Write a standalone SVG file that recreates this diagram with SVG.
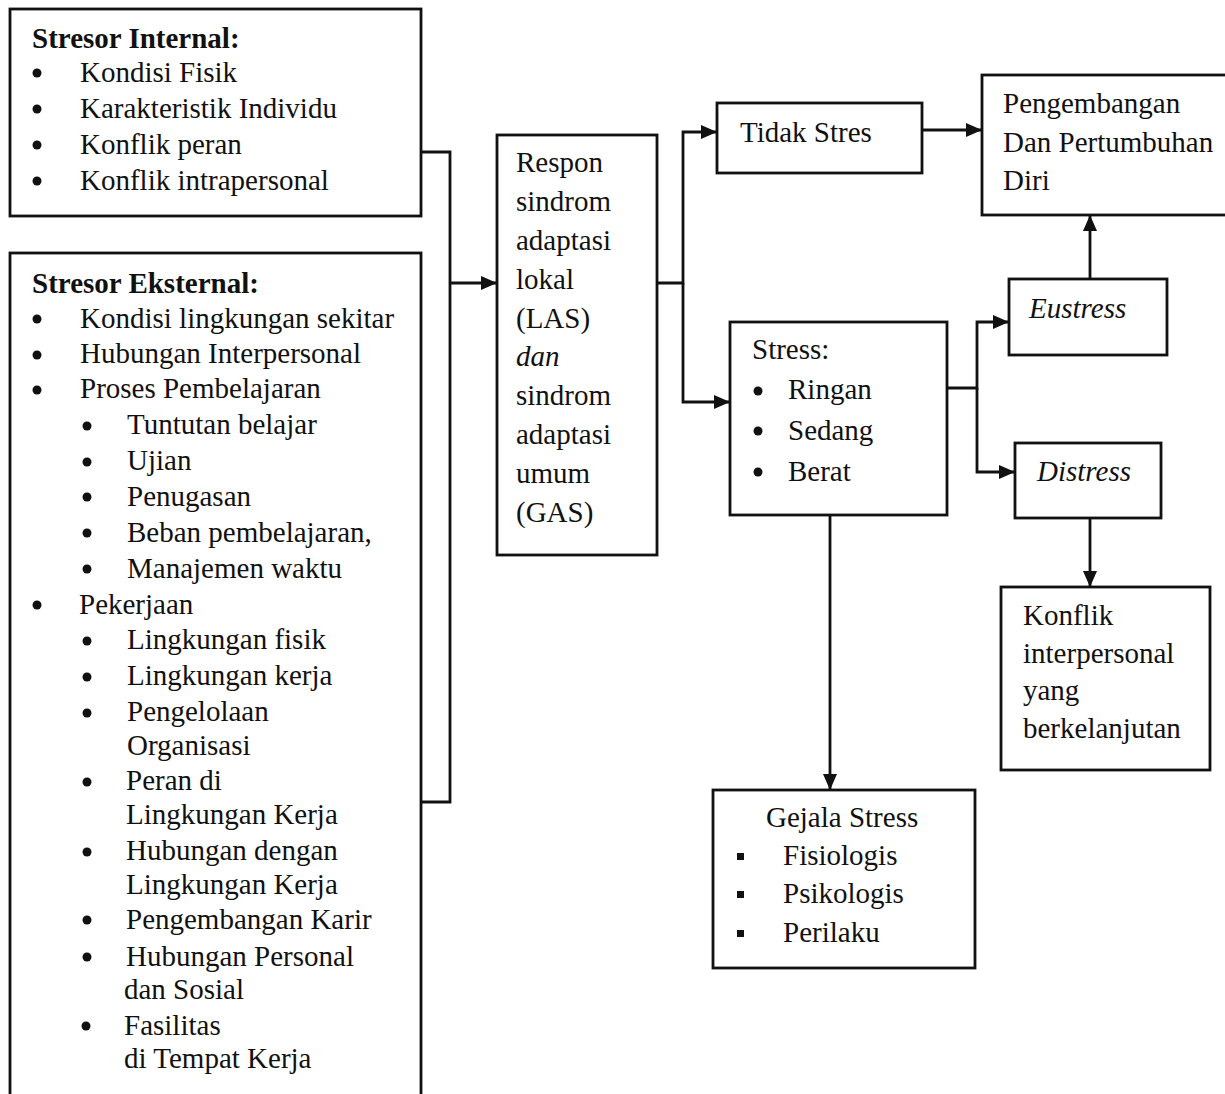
<svg xmlns="http://www.w3.org/2000/svg" width="1225" height="1094" viewBox="0 0 1225 1094">
<style>
  .box { fill: #fff; stroke: #111; stroke-width: 2.8; }
  .t { font-family: "Liberation Serif", "Times New Roman", serif; font-size: 29px; fill: #111; }
  .b { font-weight: bold; }
  .i { font-style: italic; }
  .con { fill: none; stroke: #111; stroke-width: 2.8; }
  .dot { fill: #111; }
</style>
<defs>
  <marker id="arr" markerUnits="userSpaceOnUse" markerWidth="18" markerHeight="16" refX="16" refY="7" orient="auto">
    <path d="M0,0 L16,7 L0,14 z" fill="#111"/>
  </marker>
</defs>
<rect width="1225" height="1094" fill="#fff"/>

<g id="connectors">
  <path class="con" d="M421,152 H450 V802 H421"/>
  <path class="con" d="M450,283 H497" marker-end="url(#arr)"/>
  <path class="con" d="M657,283 H683 V132 H717" marker-end="url(#arr)"/>
  <path class="con" d="M683,283 V402 H730" marker-end="url(#arr)"/>
  <path class="con" d="M922,130 H982" marker-end="url(#arr)"/>
  <path class="con" d="M1090,279 V215" marker-end="url(#arr)"/>
  <path class="con" d="M947,388 H977 V322 H1009" marker-end="url(#arr)"/>
  <path class="con" d="M977,388 V472 H1015" marker-end="url(#arr)"/>
  <path class="con" d="M1090,518 V587" marker-end="url(#arr)"/>
  <path class="con" d="M830,515 V790" marker-end="url(#arr)"/>
</g>

<g id="stresor-internal">
  <rect class="box" x="10" y="9" width="411" height="207"/>
  <text class="t b" x="32" y="48">Stresor Internal:</text>
  <circle class="dot" cx="37" cy="73" r="4.5"/><text class="t" x="80" y="82">Kondisi Fisik</text>
  <circle class="dot" cx="37" cy="109" r="4.5"/><text class="t" x="80" y="118">Karakteristik Individu</text>
  <circle class="dot" cx="37" cy="145" r="4.5"/><text class="t" x="80" y="154">Konflik peran</text>
  <circle class="dot" cx="37" cy="181" r="4.5"/><text class="t" x="80" y="190">Konflik intrapersonal</text>
</g>

<g id="stresor-eksternal">
  <rect class="box" x="10" y="253" width="411" height="860"/>
  <text class="t b" x="32" y="293">Stresor Eksternal:</text>
  <circle class="dot" cx="37" cy="319" r="4.5"/><text class="t" x="80" y="328">Kondisi lingkungan sekitar</text>
  <circle class="dot" cx="37" cy="355" r="4.5"/><text class="t" x="80" y="363">Hubungan Interpersonal</text>
  <circle class="dot" cx="37" cy="390" r="4.5"/><text class="t" x="80" y="398">Proses Pembelajaran</text>
  <circle class="dot" cx="87" cy="426" r="4.5"/><text class="t" x="127" y="434">Tuntutan belajar</text>
  <circle class="dot" cx="87" cy="462" r="4.5"/><text class="t" x="127" y="470">Ujian</text>
  <circle class="dot" cx="87" cy="497" r="4.5"/><text class="t" x="127" y="506">Penugasan</text>
  <circle class="dot" cx="87" cy="533" r="4.5"/><text class="t" x="127" y="542">Beban pembelajaran,</text>
  <circle class="dot" cx="87" cy="569" r="4.5"/><text class="t" x="127" y="578">Manajemen waktu</text>
  <circle class="dot" cx="37" cy="605" r="4.5"/><text class="t" x="79" y="614">Pekerjaan</text>
  <circle class="dot" cx="87" cy="641" r="4.5"/><text class="t" x="127" y="649">Lingkungan fisik</text>
  <circle class="dot" cx="87" cy="677" r="4.5"/><text class="t" x="127" y="685">Lingkungan kerja</text>
  <circle class="dot" cx="87" cy="713" r="4.5"/><text class="t" x="127" y="721">Pengelolaan</text>
  <text class="t" x="127" y="755">Organisasi</text>
  <circle class="dot" cx="87" cy="782" r="4.5"/><text class="t" x="126" y="790">Peran di</text>
  <text class="t" x="126" y="824">Lingkungan Kerja</text>
  <circle class="dot" cx="87" cy="852" r="4.5"/><text class="t" x="126" y="860">Hubungan dengan</text>
  <text class="t" x="126" y="894">Lingkungan Kerja</text>
  <circle class="dot" cx="87" cy="920" r="4.5"/><text class="t" x="126" y="929">Pengembangan Karir</text>
  <circle class="dot" cx="87" cy="957" r="4.5"/><text class="t" x="126" y="966">Hubungan Personal</text>
  <text class="t" x="124" y="999">dan Sosial</text>
  <circle class="dot" cx="86" cy="1026" r="4.5"/><text class="t" x="124" y="1035">Fasilitas</text>
  <text class="t" x="124" y="1068">di Tempat Kerja</text>
</g>

<g id="respon">
  <rect class="box" x="497" y="135" width="160" height="420"/>
  <text class="t" x="516" y="172">Respon</text>
  <text class="t" x="516" y="211">sindrom</text>
  <text class="t" x="516" y="250">adaptasi</text>
  <text class="t" x="516" y="289">lokal</text>
  <text class="t" x="516" y="328">(LAS)</text>
  <text class="t i" x="516" y="366">dan</text>
  <text class="t" x="516" y="405">sindrom</text>
  <text class="t" x="516" y="444">adaptasi</text>
  <text class="t" x="516" y="483">umum</text>
  <text class="t" x="516" y="522">(GAS)</text>
</g>

<g id="tidak-stres">
  <rect class="box" x="717" y="103" width="205" height="70"/>
  <text class="t" x="740" y="142">Tidak Stres</text>
</g>

<g id="pengembangan">
  <rect class="box" x="982" y="75" width="260" height="140"/>
  <text class="t" x="1003" y="113">Pengembangan</text>
  <text class="t" x="1003" y="152">Dan Pertumbuhan</text>
  <text class="t" x="1003" y="190">Diri</text>
</g>

<g id="eustress">
  <rect class="box" x="1009" y="279" width="158" height="76"/>
  <text class="t i" x="1029" y="318">Eustress</text>
</g>

<g id="stress">
  <rect class="box" x="730" y="322" width="217" height="193"/>
  <text class="t" x="752" y="359">Stress:</text>
  <circle class="dot" cx="758" cy="391" r="4.5"/><text class="t" x="788" y="399">Ringan</text>
  <circle class="dot" cx="758" cy="431" r="4.5"/><text class="t" x="788" y="440">Sedang</text>
  <circle class="dot" cx="758" cy="472" r="4.5"/><text class="t" x="788" y="481">Berat</text>
</g>

<g id="distress">
  <rect class="box" x="1015" y="443" width="146" height="75"/>
  <text class="t i" x="1037" y="481">Distress</text>
</g>

<g id="konflik">
  <rect class="box" x="1001" y="587" width="209" height="183"/>
  <text class="t" x="1023" y="625">Konflik</text>
  <text class="t" x="1023" y="663">interpersonal</text>
  <text class="t" x="1023" y="700">yang</text>
  <text class="t" x="1023" y="738">berkelanjutan</text>
</g>

<g id="gejala">
  <rect class="box" x="713" y="790" width="262" height="178"/>
  <text class="t" x="766" y="827">Gejala Stress</text>
  <rect class="dot" x="737" y="853" width="7" height="7"/><text class="t" x="783" y="865">Fisiologis</text>
  <rect class="dot" x="737" y="891" width="7" height="7"/><text class="t" x="783" y="903">Psikologis</text>
  <rect class="dot" x="737" y="930" width="7" height="7"/><text class="t" x="783" y="942">Perilaku</text>
</g>
</svg>
